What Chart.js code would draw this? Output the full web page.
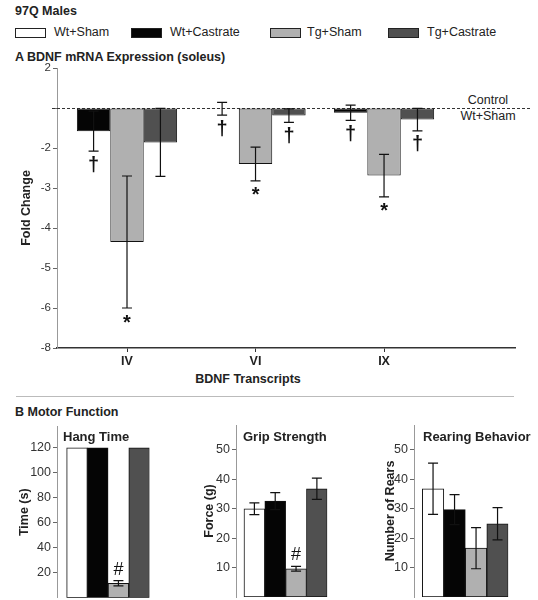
<!DOCTYPE html>
<html>
<head>
<meta charset="utf-8">
<script src="https://cdn.jsdelivr.net/npm/chart.js@4/dist/chart.umd.min.js"></script>
<style>
body { margin: 0; background: #fff; font-family: "Liberation Sans", Arial, sans-serif; color: #222; }
#page { position: relative; width: 538px; height: 600px; overflow: hidden; }
.t { position: absolute; white-space: nowrap; line-height: 1; font-size: 12.5px; }
.b { font-weight: bold; }
.box { position: absolute; top: 28px; width: 29px; height: 8px; border: 1px solid #222; }
canvas { position: absolute; }
</style>
</head>
<body>
<div id="page">
  <div class="t b" style="left:15px;top:5px">97Q Males</div>

  <div class="box" style="left:15px;background:#fff"></div>
  <div class="t" style="left:54px;top:26px">Wt+Sham</div>
  <div class="box" style="left:131px;background:#050505"></div>
  <div class="t" style="left:170px;top:26px">Wt+Castrate</div>
  <div class="box" style="left:270px;background:#b0b0b0"></div>
  <div class="t" style="left:307px;top:26px">Tg+Sham</div>
  <div class="box" style="left:388px;background:#505050"></div>
  <div class="t" style="left:427px;top:26px">Tg+Castrate</div>

  <div class="t b" style="left:15px;top:51px">A BDNF mRNA Expression (soleus)</div>
  <div class="t" style="left:448px;top:94px;width:80px;text-align:center">Control</div>
  <div class="t" style="left:448px;top:110px;width:80px;text-align:center">Wt+Sham</div>
  <div class="t b" style="left:148px;top:373px;width:200px;text-align:center">BDNF Transcripts</div>

  <div style="position:absolute;left:16px;top:396px;width:498px;height:1px;background:#bbb"></div>
  <div class="t b" style="left:15px;top:406px">B Motor Function</div>

  <canvas id="graficaA" width="538" height="330" style="left:0;top:60px"></canvas>
  <canvas id="graficaHang" width="180" height="180" style="left:0;top:420px"></canvas>
  <canvas id="graficaGrip" width="180" height="180" style="left:180px;top:420px"></canvas>
  <canvas id="graficaRear" width="178" height="180" style="left:360px;top:420px"></canvas>

  <div class="t b" style="left:63px;top:430px;font-size:13px">Hang Time</div>
  <div class="t b" style="left:243px;top:430px;font-size:13px">Grip Strength</div>
  <div class="t b" style="left:423px;top:430px;font-size:13px">Rearing Behavior</div>
</div>

<script>
// grupos y colores
const grupos = ['Wt+Sham', 'Wt+Castrate', 'Tg+Sham', 'Tg+Castrate'];
const coloresGrupo = ['#ffffff', '#050505', '#b0b0b0', '#505050'];

// A: fold change frente a Wt+Sham (control = 1, sin barra)
const transcritos = ['IV', 'VI', 'IX'];
const wtCastrateFold = [-1.58, -1.02, -1.12];
const wtCastrateErr = [0.50, 0.16, 0.19];
const wtCastrateMarcas = ['†', '†', '†'];
const tgShamFold = [-4.35, -2.40, -2.69];
const tgShamErr = [1.65, 0.42, 0.53];
const tgShamMarcas = ['*', '*', '*'];
const tgCastrateFold = [-1.86, -1.19, -1.29];
const tgCastrateErr = [0.85, 0.17, 0.28];
const tgCastrateMarcas = ['', '†', '†'];

// eje de fold change: posiciones y etiquetas tal como salen en la figura
const foldTickPos = [1, 0, -1, -2, -3, -4, -5, -6];
const foldTickLabels = ['2', '', '-2', '-3', '-4', '-5', '-6', '-8'];

// B: funcion motora
const hangTime = [120, 120, 11.5, 120];
const hangTimeErr = [0, 0, 2.1, 0];
const hangMarcas = ['', '', '#', ''];
const hangTicks = [20, 40, 60, 80, 100, 120];

const gripForce = [30, 32.6, 9.6, 36.8];
const gripForceErr = [2, 2.9, 0.8, 3.6];
const gripMarcas = ['', '', '#', ''];
const gripTicks = [10, 20, 30, 40, 50];

const rears = [36.8, 29.7, 16.6, 24.9];
const rearsErr = [8.7, 5.1, 7.0, 5.5];
const rearTicks = [10, 20, 30, 40, 50];

Chart.defaults.font.family = '"Liberation Sans", Arial, sans-serif';
Chart.defaults.color = '#333';

// fold change -> posicion en el eje (1 y -1 coinciden en el 0)
function foldAPos(f) {
    return f > 0 ? f - 1 : f + 1;
}

const pluginErrores = {
    id: 'errores',
    afterDatasetsDraw(chart) {
        const ctx = chart.ctx;
        const y = chart.scales.y;
        chart.data.datasets.forEach((ds, di) => {
            const meta = chart.getDatasetMeta(di);
            meta.data.forEach((bar, i) => {
                const v = ds.data[i].y;
                const e = ds.errores[i];
                const x = bar.x;
                const arriba = y.getPixelForValue(v + e);
                const abajo = y.getPixelForValue(v - e);
                ctx.save();
                if (e > 0) {
                    ctx.strokeStyle = '#111';
                    ctx.lineWidth = 1.2;
                    ctx.beginPath();
                    ctx.moveTo(x, arriba); ctx.lineTo(x, abajo);
                    ctx.moveTo(x - 5, arriba); ctx.lineTo(x + 5, arriba);
                    ctx.moveTo(x - 5, abajo); ctx.lineTo(x + 5, abajo);
                    ctx.stroke();
                }
                const m = ds.marcas ? ds.marcas[i] : '';
                if (m) {
                    ctx.fillStyle = '#111';
                    ctx.textAlign = 'center';
                    ctx.textBaseline = 'middle';
                    if (m === '#') {
                        ctx.font = '18px "Liberation Sans"';
                        ctx.fillText(m, x, arriba - 11);
                    } else if (m === '*') {
                        ctx.font = 'bold 20px "Liberation Sans"';
                        ctx.fillText(m, x, abajo + 15);
                    } else {
                        ctx.font = 'bold 20px "Liberation Sans"';
                        ctx.fillText(m, x, abajo + 14);
                    }
                }
                ctx.restore();
            });
        });
    }
};

const pluginControl = {
    id: 'lineaControl',
    beforeDatasetsDraw(chart) {
        const ctx = chart.ctx;
        const y0 = Math.round(chart.scales.y.getPixelForValue(0)) + 0.5;
        ctx.save();
        ctx.strokeStyle = '#333';
        ctx.lineWidth = 1;
        ctx.setLineDash([3, 2]);
        ctx.beginPath();
        ctx.moveTo(52, y0);
        ctx.lineTo(530, y0);
        ctx.stroke();
        ctx.restore();
    }
};

function datosSerie(valores, conversion) {
    return valores.map((v, i) => ({ x: i + 1, y: conversion ? conversion(v) : v }));
}

function inicializarGraficaA() {
    const ctx = document.getElementById('graficaA').getContext('2d');
    const serie = (label, fold, err, marcas, color) => ({
        label: label,
        data: datosSerie(fold, foldAPos),
        errores: err,
        marcas: marcas,
        backgroundColor: color,
        borderColor: '#111',
        borderWidth: 1,
        borderSkipped: false
    });

    new Chart(ctx, {
        type: 'bar',
        data: {
            datasets: [
                serie(grupos[1], wtCastrateFold, wtCastrateErr, wtCastrateMarcas, coloresGrupo[1]),
                serie(grupos[2], tgShamFold, tgShamErr, tgShamMarcas, coloresGrupo[2]),
                serie(grupos[3], tgCastrateFold, tgCastrateErr, tgCastrateMarcas, coloresGrupo[3])
            ]
        },
        options: {
            responsive: false,
            animation: false,
            categoryPercentage: 0.78,
            barPercentage: 1,
            layout: { padding: { left: 13, top: 8, right: 23, bottom: 0 } },
            scales: {
                x: {
                    type: 'linear',
                    offset: false,
                    min: 0.4553,
                    max: 4.019,
                    afterBuildTicks: s => { s.ticks = transcritos.map((t, i) => ({ value: i + 1 })); },
                    afterFit: s => { s.height = 42; s.paddingLeft = 0; s.paddingRight = 0; },
                    ticks: {
                        callback: v => transcritos[v - 1],
                        font: { size: 12.5, weight: 'bold' },
                        color: '#222',
                        padding: 2
                    },
                    grid: { offset: false, drawOnChartArea: false, tickLength: 4, color: '#333' },
                    border: { color: '#333', width: 1.5 }
                },
                y: {
                    min: -6,
                    max: 1,
                    afterBuildTicks: s => { s.ticks = foldTickPos.map(v => ({ value: v })); },
                    afterFit: s => { s.width = 44; s.paddingTop = 0; s.paddingBottom = 0; },
                    ticks: {
                        callback: v => foldTickLabels[foldTickPos.indexOf(v)],
                        font: { size: 11.5 },
                        padding: 2
                    },
                    grid: { drawOnChartArea: false, tickLength: 4, color: '#666' },
                    border: { color: '#999', width: 1 },
                    title: {
                        display: true,
                        text: 'Fold Change',
                        font: { size: 12.5, weight: 'bold' },
                        color: '#222',
                        padding: { top: 6, bottom: 0 }
                    }
                }
            },
            plugins: { legend: { display: false }, tooltip: { enabled: false } }
        },
        plugins: [pluginControl, pluginErrores]
    });
}

function inicializarGraficaMotora(id, valores, errores, marcas, ticks, maxY, minX, tituloY, padding, anchoEje) {
    const ctx = document.getElementById(id).getContext('2d');

    new Chart(ctx, {
        type: 'bar',
        data: {
            datasets: [{
                label: tituloY,
                data: datosSerie(valores),
                errores: errores,
                marcas: marcas,
                backgroundColor: coloresGrupo,
                borderColor: '#111',
                borderWidth: 1,
                borderSkipped: false
            }]
        },
        options: {
            responsive: false,
            animation: false,
            categoryPercentage: 1,
            barPercentage: 1,
            layout: { padding: padding },
            scales: {
                x: {
                    type: 'linear',
                    display: false,
                    offset: false,
                    min: minX,
                    max: 4.5,
                    afterBuildTicks: s => { s.ticks = grupos.map((g, i) => ({ value: i + 1 })); }
                },
                y: {
                    min: 0,
                    max: maxY,
                    afterBuildTicks: s => { s.ticks = ticks.map(v => ({ value: v })); },
                    afterFit: s => { s.width = anchoEje; s.paddingTop = 0; s.paddingBottom = 0; },
                    ticks: { font: { size: 12.5 }, padding: 2 },
                    grid: { drawOnChartArea: false, tickLength: 4, color: '#666' },
                    border: { color: '#999', width: 1 },
                    title: {
                        display: true,
                        text: tituloY,
                        font: { size: 12.5, weight: 'bold' },
                        color: '#222',
                        padding: { top: 4, bottom: 0 }
                    }
                }
            },
            plugins: { legend: { display: false }, tooltip: { enabled: false } }
        },
        plugins: [pluginErrores]
    });
}

inicializarGraficaA();
inicializarGraficaMotora('graficaHang', hangTime, hangTimeErr, hangMarcas, hangTicks, 137, 0.034, 'Time (s)',
    { left: 13, top: 6.7, right: 30.5, bottom: 2.3 }, 44);
inicializarGraficaMotora('graficaGrip', gripForce, gripForceErr, gripMarcas, gripTicks, 58.5, 0.117, 'Force (g)',
    { left: 18.5, top: 5, right: 32.7, bottom: 3 }, 37.5);
inicializarGraficaMotora('graficaRear', rears, rearsErr, null, rearTicks, 58.5, 0.114, 'Number of Rears',
    { left: 19, top: 5, right: 29.7, bottom: 3 }, 35);
</script>
</body>
</html>
